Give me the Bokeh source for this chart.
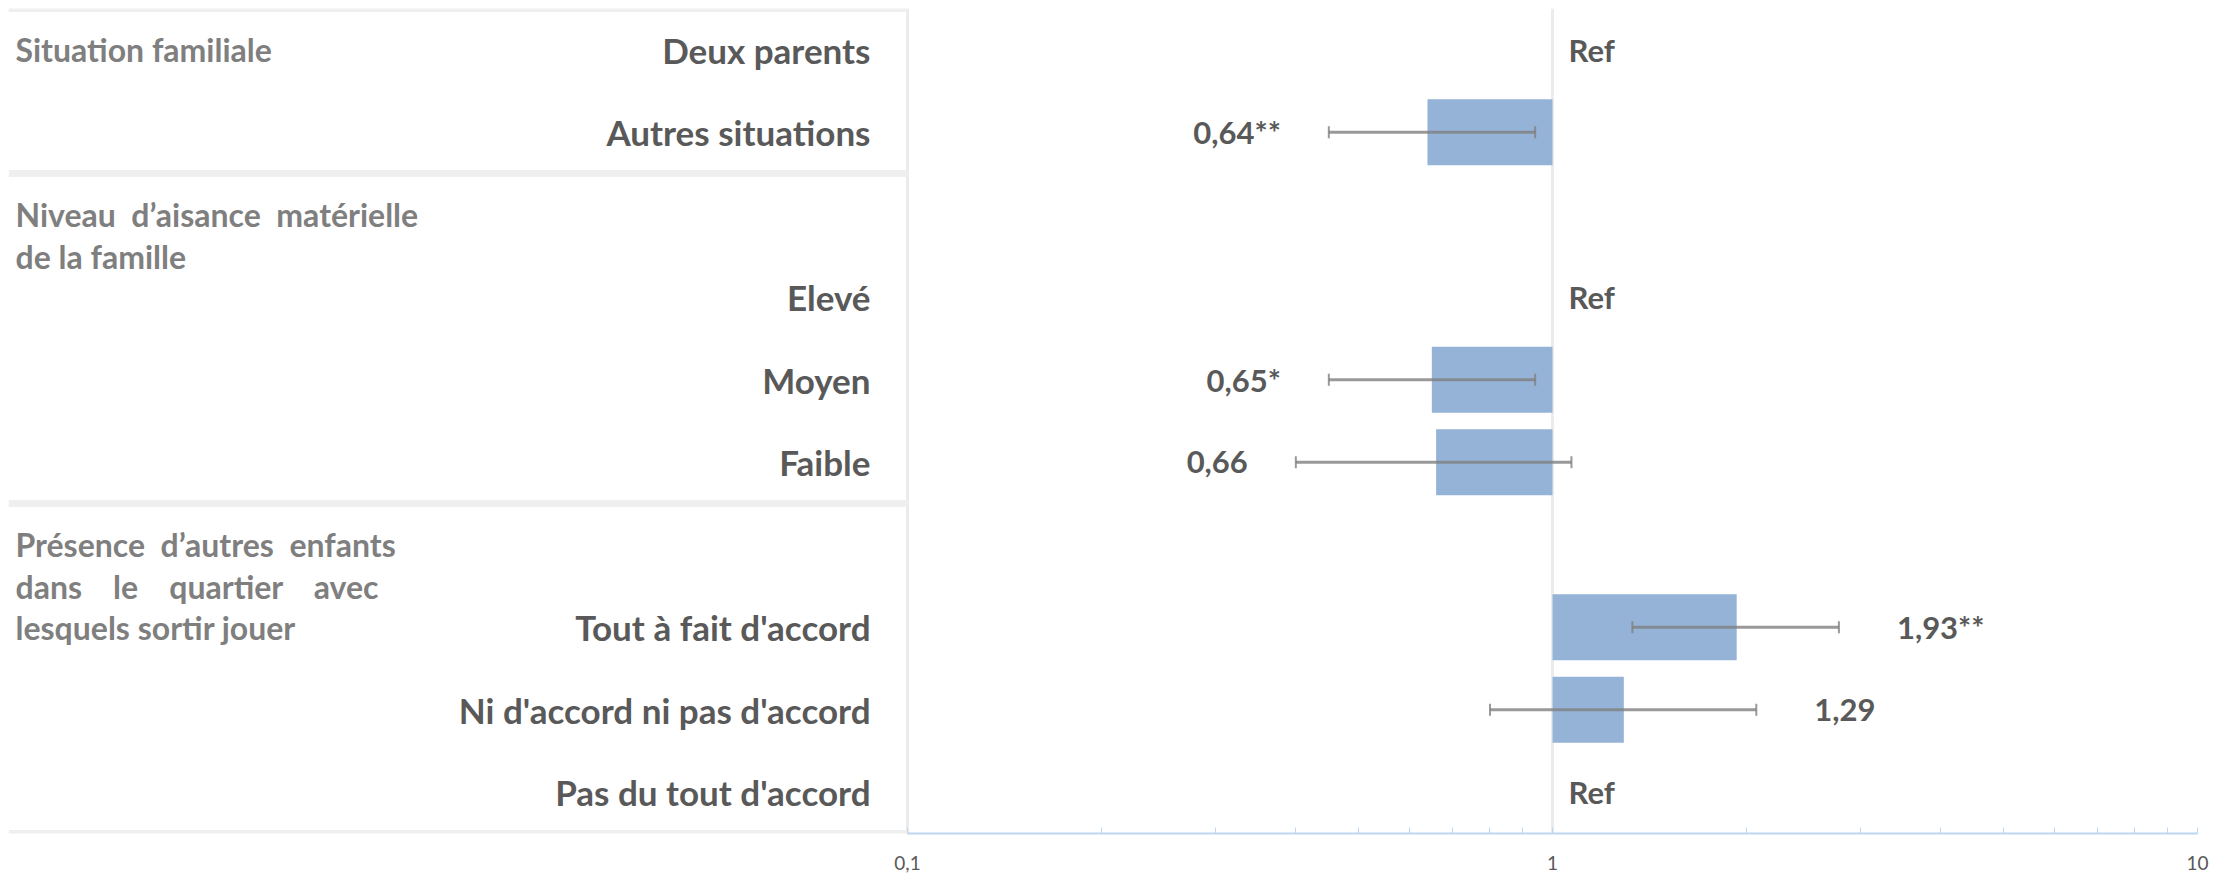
from bokeh.plotting import figure
from bokeh.models import (ColumnDataSource, Range1d, FixedTicker,
                          CustomJSTickFormatter, Whisker, TeeHead)
from bokeh.core.properties import value
from bokeh.embed import file_html
from bokeh.resources import INLINE

# ---------------- data ----------------
NB = "\u00a0"
group_headers = [
    ["Situation familiale"],
    ["Niveau" + NB + " d\u2019aisance" + NB + " matérielle", "de la famille"],
    ["Présence" + NB + " d\u2019autres" + NB + " enfants",
     "dans" + NB * 4 + "le" + NB * 4 + "quartier" + NB * 4 + "avec",
     "lesquels sortir jouer"],
]
categories = ["Deux parents", "Autres situations",
              "Elevé", "Moyen", "Faible",
              "Tout à fait d'accord", "Ni d'accord ni pas d'accord", "Pas du tout d'accord"]
group_index = [0, 0, 1, 1, 1, 2, 2, 2]
is_reference = [True, False, True, False, False, False, False, True]
odds_ratio = [1.0, 0.64, 1.0, 0.65, 0.66, 1.93, 1.29, 1.0]
ci_low = [None, 0.45, None, 0.45, 0.40, 1.33, 0.80, None]
ci_high = [None, 0.94, None, 0.94, 1.07, 2.78, 2.07, None]
stars = ["", "**", "", "*", "", "**", "", ""]

tick_values = [0.1, 1, 10]
tick_labels = ["0,1", "1", "10"]
minor_tick_values = [0.2, 0.3, 0.4, 0.5, 0.6, 0.7, 0.8, 0.9, 2, 3, 4, 5, 6, 7, 8, 9]

# ---------------- layout of rows ----------------
row_y = [0] * len(categories)
header_row = []
separators = []
y = 0
for g, lines in enumerate(group_headers):
    separators.append(y - 0.5)
    header_row.append(y)
    if len(lines) > 1:
        y += 1
    for i, gi in enumerate(group_index):
        if gi == g:
            row_y[i] = y
            y += 1
separators.append(y - 0.5)
n_rows = y

PANEL_PX = 899
PLOT_PX = 1290
x_start = tick_values[0] / (tick_values[-1] / tick_values[0]) ** (PANEL_PX / PLOT_PX)

FONT = value("Lato")
DARK = "#595959"
LIGHT = "#7f7f7f"
BAR = "#95b3d7"

p = figure(frame_width=PANEL_PX + PLOT_PX, frame_height=825,
           x_axis_type="log", x_range=Range1d(x_start, tick_values[-1]),
           y_range=Range1d(n_rows - 0.5, -0.5), y_axis_location=None,
           toolbar_location=None, output_backend="svg",
           min_border_left=8, min_border_right=20, min_border_top=8, min_border_bottom=40)
p.outline_line_color = None
p.background_fill_color = "white"
p.ygrid.visible = False

# x grid lines (0.1 acts as panel border)
p.xgrid.ticker = FixedTicker(ticks=tick_values)
p.xgrid.grid_line_color = "#ebebeb"
p.xgrid.grid_line_width = 3

# panel separators
p.segment(x0=[x_start] * len(separators), x1=[tick_values[0]] * len(separators),
          y0=separators, y1=separators, line_width=7, line_color="#efefef")

# axis
ax = p.xaxis[0]
ax.bounds = (tick_values[0], tick_values[-1])
ax.ticker = FixedTicker(ticks=tick_values, minor_ticks=minor_tick_values)
ax.formatter = CustomJSTickFormatter(
    args=dict(vals=tick_values, labs=tick_labels),
    code="const i = vals.findIndex(v => Math.abs(v - tick) < 1e-9 * Math.max(1, v)); return i >= 0 ? labs[i] : '';")
ax.axis_line_color = "#bdd7ee"
ax.axis_line_width = 2
ax.major_tick_line_color = "#bdd7ee"
ax.minor_tick_line_color = "#bdd7ee"
ax.major_tick_in = 6
ax.major_tick_out = 0
ax.minor_tick_in = 6
ax.minor_tick_out = 0
ax.major_label_standoff = 22
ax.major_label_text_font = "Lato"
ax.major_label_text_font_size = "19px"
ax.major_label_text_color = DARK

# bars
bar_src = ColumnDataSource(dict(
    y=[row_y[i] for i in range(len(categories)) if not is_reference[i]],
    right=[odds_ratio[i] for i in range(len(categories)) if not is_reference[i]],
    lo=[ci_low[i] for i in range(len(categories)) if not is_reference[i]],
    hi=[ci_high[i] for i in range(len(categories)) if not is_reference[i]],
))
p.hbar(y="y", left=1, right="right", height=0.8, source=bar_src,
       fill_color=BAR, line_color=None)

wcol = "#7f7f7f"
p.add_layout(Whisker(base="y", lower="lo", upper="hi", dimension="width", source=bar_src,
                     level="overlay",
                     line_color=wcol, line_width=3, line_alpha=0.8,
                     lower_head=TeeHead(size=12, line_color=wcol, line_width=2, line_alpha=0.8),
                     upper_head=TeeHead(size=12, line_color=wcol, line_width=2, line_alpha=0.8)))

# value labels
def fmt(i):
    return f"{odds_ratio[i]:.2f}".replace(".", ",") + stars[i]

left_idx = [i for i in range(len(categories)) if not is_reference[i] and odds_ratio[i] < 1]
right_idx = [i for i in range(len(categories)) if not is_reference[i] and odds_ratio[i] > 1]
ref_idx = [i for i in range(len(categories)) if is_reference[i]]

common = dict(text_font=FONT, text_font_style="bold", text_font_size="31px",
              text_color=DARK, text_baseline="middle")
p.text(x=[ci_low[i] for i in left_idx], y=[row_y[i] for i in left_idx],
       text=[fmt(i) for i in left_idx], x_offset=-48, text_align="right", **common)
p.text(x=[ci_high[i] for i in right_idx], y=[row_y[i] for i in right_idx],
       text=[fmt(i) for i in right_idx], x_offset=58, text_align="left", **common)
p.text(x=[1] * len(ref_idx), y=[row_y[i] for i in ref_idx],
       text=["Ref"] * len(ref_idx), x_offset=16, text_align="left", **common)

# row labels
p.text(x=[tick_values[0]] * len(categories), y=row_y, text=categories,
       x_offset=-37, text_align="right", text_font=FONT, text_font_style="bold",
       text_font_size="35px", text_color=DARK, text_baseline="middle")

# group headers
hx, hy, ht = [], [], []
for g, lines in enumerate(group_headers):
    for k, line in enumerate(lines):
        hx.append(x_start)
        hy.append(header_row[g] + 0.5 * k)
        ht.append(line)
p.text(x=hx, y=hy, text=ht, x_offset=7, text_align="left", text_font=FONT,
       text_font_style="bold", text_font_size="32px", text_color=LIGHT,
       text_baseline="middle")

open("out.html", "w").write(file_html(p, INLINE))
